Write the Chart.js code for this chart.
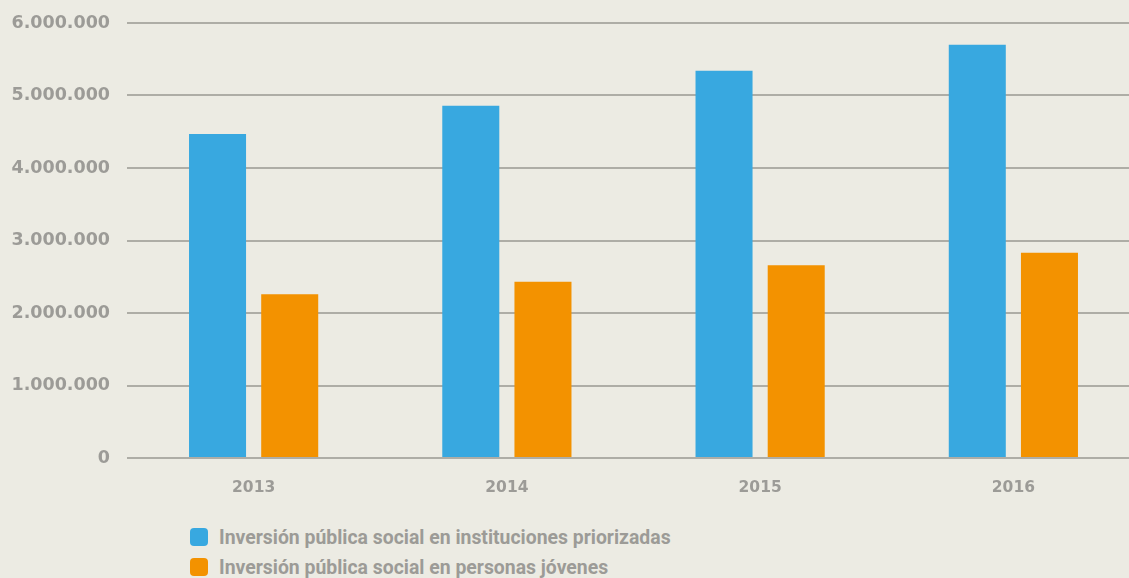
<!DOCTYPE html>
<html>
<head>
<meta charset="utf-8">
<script src="https://cdn.jsdelivr.net/npm/chart.js@4"></script>
<style>
  html, body { margin: 0; padding: 0; background: #ECEBE3; overflow: hidden; }
  #wrap { position: relative; width: 1140px; height: 500px; }
  #legend { margin: 22px 0 0 190px; padding: 0; list-style: none; font-family: Roboto, sans-serif; font-weight: bold; font-size: 19.4px; color: #9c9b97; }
  #legend li { display: flex; align-items: center; height: 30px; }
  #legend span.box { display: inline-block; width: 18px; height: 18px; border-radius: 4px; margin-right: 11px; }
</style>
</head>
<body>
<div id="wrap"><canvas id="chart"></canvas></div>
<ul id="legend"></ul>
<script>
const years = ['2013', '2014', '2015', '2016'];
const instituciones = [4470000, 4860000, 5340000, 5700000];
const jovenes = [2260000, 2430000, 2660000, 2830000];
const seriesLabels = ['Inversión pública social en instituciones priorizadas', 'Inversión pública social en personas jóvenes'];
const yTicks = [0, 1000000, 2000000, 3000000, 4000000, 5000000, 6000000];

document.addEventListener('DOMContentLoaded', () => {
    const ctx = document.getElementById('chart').getContext('2d');
    const gray = '#9c9b97';

    const chart = new Chart(ctx, {
        type: 'bar',
        data: {
            labels: years,
            datasets: [{
                label: seriesLabels[0],
                data: instituciones,
                backgroundColor: '#38A8E0'
            }, {
                label: seriesLabels[1],
                data: jovenes,
                backgroundColor: '#F39200'
            }]
        },
        options: {
            responsive: true,
            maintainAspectRatio: false,
            animation: false,
            categoryPercentage: 0.57,
            barPercentage: 0.79,
            layout: { padding: { top: 23, right: 0, bottom: 0, left: 0 } },
            plugins: {
                legend: { display: false },
                tooltip: { enabled: false }
            },
            scales: {
                x: {
                    grid: { display: false },
                    border: { display: false },
                    ticks: {
                        color: gray,
                        padding: 13,
                        font: { family: '"DejaVu Sans", sans-serif', weight: 'bold', size: 15.5 }
                    },
                    afterFit: (scale) => { scale.height = 42; }
                },
                y: {
                    min: 0,
                    max: 6000000,
                    afterBuildTicks: (scale) => { scale.ticks = yTicks.map(v => ({ value: v })); },
                    grid: { color: '#aeada6', lineWidth: 2, drawTicks: false },
                    border: { display: false },
                    ticks: {
                        color: gray,
                        padding: 17,
                        font: { family: '"DejaVu Sans", sans-serif', weight: 'bold', size: 17.5 },
                        callback: (v) => v === 0 ? '0' : v.toLocaleString('de-DE')
                    },
                    afterFit: (scale) => {
                        scale.width = 127;
                        scale.paddingTop = 0;
                        scale.paddingBottom = 0;
                    }
                }
            }
        }
    });

    // leyenda vertical propia
    const legend = document.getElementById('legend');
    chart.data.datasets.forEach(ds => {
        const li = document.createElement('li');
        li.innerHTML = `<span class="box" style="background:${ds.backgroundColor}"></span>${ds.label}`;
        legend.appendChild(li);
    });
});
</script>
</body>
</html>
